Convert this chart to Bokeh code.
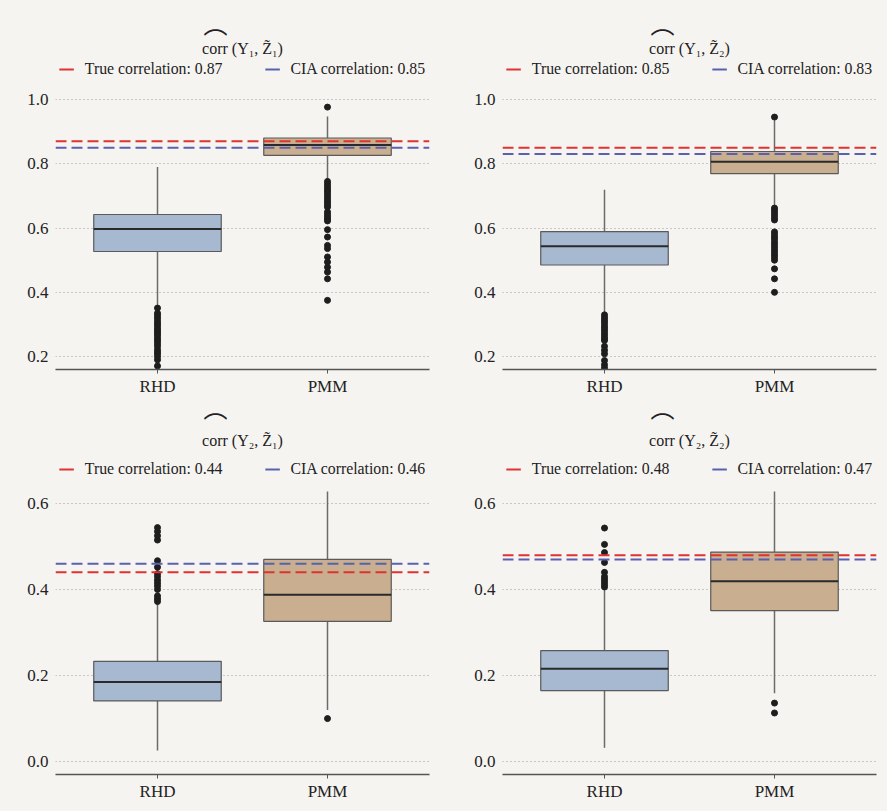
from bokeh.plotting import figure
from bokeh.models import FactorRange, FixedTicker, Span, Legend, LegendItem, Title, Range1d, PrintfTickFormatter
from bokeh.layouts import gridplot
from bokeh.embed import file_html
from bokeh.resources import INLINE

methods = ["RHD", "PMM"]
panel_titles = ["corr (Y\u2081, Z\u0303\u2081)", "corr (Y\u2081, Z\u0303\u2082)",
                "corr (Y\u2082, Z\u0303\u2081)", "corr (Y\u2082, Z\u0303\u2082)"]
true_corr = [0.87, 0.85, 0.44, 0.48]
cia_corr = [0.85, 0.83, 0.46, 0.47]

# box statistics per panel: [RHD, PMM]
q1 = [[0.527, 0.826], [0.485, 0.769], [0.141, 0.326], [0.165, 0.351]]
median = [[0.597, 0.858], [0.543, 0.806], [0.185, 0.388], [0.216, 0.419]]
q3 = [[0.642, 0.880], [0.589, 0.838], [0.233, 0.470], [0.258, 0.487]]
whisker_low = [[0.355, 0.748], [0.335, 0.670], [0.026, 0.120], [0.032, 0.159]]
whisker_high = [[0.790, 0.947], [0.719, 0.935], [0.365, 0.628], [0.400, 0.628]]

outliers_rhd = [
    [0.351, 0.335, 0.328, 0.320, 0.312, 0.305, 0.298, 0.290, 0.283, 0.276, 0.270,
     0.263, 0.255, 0.248, 0.240, 0.232, 0.222, 0.215, 0.208, 0.200, 0.190, 0.171],
    [0.330, 0.322, 0.315, 0.308, 0.300, 0.292, 0.285, 0.278, 0.270, 0.262, 0.255,
     0.250, 0.232, 0.220, 0.209, 0.188, 0.175, 0.165],
    [0.544, 0.535, 0.525, 0.515, 0.467, 0.452, 0.437, 0.430, 0.422, 0.415, 0.408,
     0.400, 0.385, 0.378, 0.372],
    [0.543, 0.505, 0.486, 0.463, 0.440, 0.430, 0.424, 0.418, 0.412, 0.406],
]
outliers_pmm = [
    [0.976, 0.745, 0.738, 0.730, 0.722, 0.715, 0.708, 0.700, 0.692, 0.685, 0.678,
     0.670, 0.665, 0.650, 0.642, 0.635, 0.628, 0.622, 0.595, 0.572, 0.546, 0.536,
     0.510, 0.494, 0.478, 0.463, 0.442, 0.375],
    [0.945, 0.662, 0.655, 0.648, 0.640, 0.632, 0.625, 0.588, 0.580, 0.572, 0.565,
     0.556, 0.548, 0.540, 0.532, 0.524, 0.516, 0.508, 0.500, 0.473, 0.442, 0.400],
    [0.100],
    [0.136, 0.113],
]

y_ranges = [(0.16, 1.121), (0.16, 1.121), (-0.03, 0.70), (-0.03, 0.70)]
y_ticks = [[0.2, 0.4, 0.6, 0.8, 1.0], [0.2, 0.4, 0.6, 0.8, 1.0],
           [0.0, 0.2, 0.4, 0.6], [0.0, 0.2, 0.4, 0.6]]

BG = "#f6f4f1"
FONT = "Liberation Serif"
BOX_FILL = ["#a7b9d1", "#c9af90"]
RED = "#dd3333"
BLUE = "#5a60b0"
TXT = "#222222"

figs = []
for i in range(4):
    top_row = i < 2
    left_col = i % 2 == 0
    p = figure(width=443 if left_col else 441, height=403 if top_row else 405,
               x_range=FactorRange(*methods, range_padding=0.1),
               y_range=Range1d(*y_ranges[i]), output_backend="svg",
               toolbar_location=None, title=None,
               min_border_left=55 if left_col else 59,
               min_border_right=14 if left_col else 8,
               min_border_top=60 if top_row else 57,
               min_border_bottom=34)
    p.background_fill_color = BG
    p.border_fill_color = BG
    p.outline_line_color = None

    # whiskers
    p.segment(x0=methods, y0=q3[i], x1=methods, y1=whisker_high[i],
              line_color="#6b6b6b", line_width=1.5)
    p.segment(x0=methods, y0=q1[i], x1=methods, y1=whisker_low[i],
              line_color="#6b6b6b", line_width=1.5)
    # boxes
    p.vbar(x=methods, top=q3[i], bottom=q1[i], width=0.75, fill_color=BOX_FILL,
           line_color="#5a5a5a", line_width=1.2)
    # medians
    p.vbar(x=methods, top=median[i], bottom=median[i], width=0.75,
           fill_color=None, line_color="#2a2a2a", line_width=2)
    # outliers
    p.scatter(x=["RHD"] * len(outliers_rhd[i]), y=outliers_rhd[i], size=6,
              fill_color="#1e1e1e", line_color="#1e1e1e")
    p.scatter(x=["PMM"] * len(outliers_pmm[i]), y=outliers_pmm[i], size=6,
              fill_color="#1e1e1e", line_color="#1e1e1e")

    # reference correlation lines
    p.add_layout(Span(location=true_corr[i], dimension="width", line_color=RED,
                      line_dash="11 5", line_width=2))
    p.add_layout(Span(location=cia_corr[i], dimension="width", line_color=BLUE,
                      line_dash="11 5", line_width=2))

    # legend proxies (zero-length lines at the correlation values)
    r_true = p.line(x=["RHD", "RHD"], y=[true_corr[i], true_corr[i]],
                    line_color=RED, line_width=2, line_cap="butt")
    r_cia = p.line(x=["RHD", "RHD"], y=[cia_corr[i], cia_corr[i]],
                   line_color=BLUE, line_width=2, line_cap="butt")
    legend = Legend(items=[
        LegendItem(label="True correlation: %.2f" % true_corr[i], renderers=[r_true]),
        LegendItem(label="CIA correlation: %.2f" % cia_corr[i], renderers=[r_cia]),
    ], location="top_center", orientation="horizontal", spacing=42, glyph_width=15,
        glyph_height=14, label_standoff=11, padding=2, margin=0,
        border_line_color=None, background_fill_alpha=0,
        label_text_font=FONT, label_text_font_size="15.8px", label_text_color=TXT)
    p.add_layout(legend)

    p.add_layout(Title(text=panel_titles[i], align="center", text_font=FONT,
                       text_font_size="16px", text_font_style="normal",
                       text_color=TXT, standoff=7 if top_row else 23), "above")
    p.add_layout(Title(text="\u2312", align="left", offset=148,
                       text_font="Noto Sans CJK JP", text_font_size="24px",
                       text_font_style="normal", text_color=TXT, standoff=-45), "above")

    # axes
    p.xgrid.grid_line_color = None
    p.ygrid.grid_line_color = "#9a9a9a"
    p.ygrid.grid_line_dash = "1 3"
    p.ygrid.grid_line_width = 1
    p.yaxis.ticker = FixedTicker(ticks=y_ticks[i])
    p.yaxis.formatter = PrintfTickFormatter(format="%.1f")
    p.yaxis.axis_line_color = None
    p.yaxis.major_tick_line_color = None
    p.yaxis.minor_tick_line_color = None
    p.yaxis.major_tick_out = 0
    p.yaxis.major_tick_in = 0
    p.yaxis.major_label_standoff = 7
    p.yaxis.major_label_text_font = FONT
    p.yaxis.major_label_text_font_size = "17px"
    p.yaxis.major_label_text_color = TXT
    p.xaxis.axis_line_color = "#555555"
    p.xaxis.axis_line_width = 1.5
    p.xaxis.major_tick_line_color = "#555555"
    p.xaxis.major_tick_in = 0
    p.xaxis.major_tick_out = 4
    p.xaxis.major_label_standoff = 3
    p.xaxis.major_label_text_font = FONT
    p.xaxis.major_label_text_font_size = "17px"
    p.xaxis.major_label_text_color = TXT
    figs.append(p)

grid = gridplot([[figs[0], figs[1]], [figs[2], figs[3]]], toolbar_location=None)

html = file_html(grid, INLINE)
html = html.replace("<head>", "<head><style>body{background:%s;}</style>" % BG, 1)
open("out.html", "w").write(html)
